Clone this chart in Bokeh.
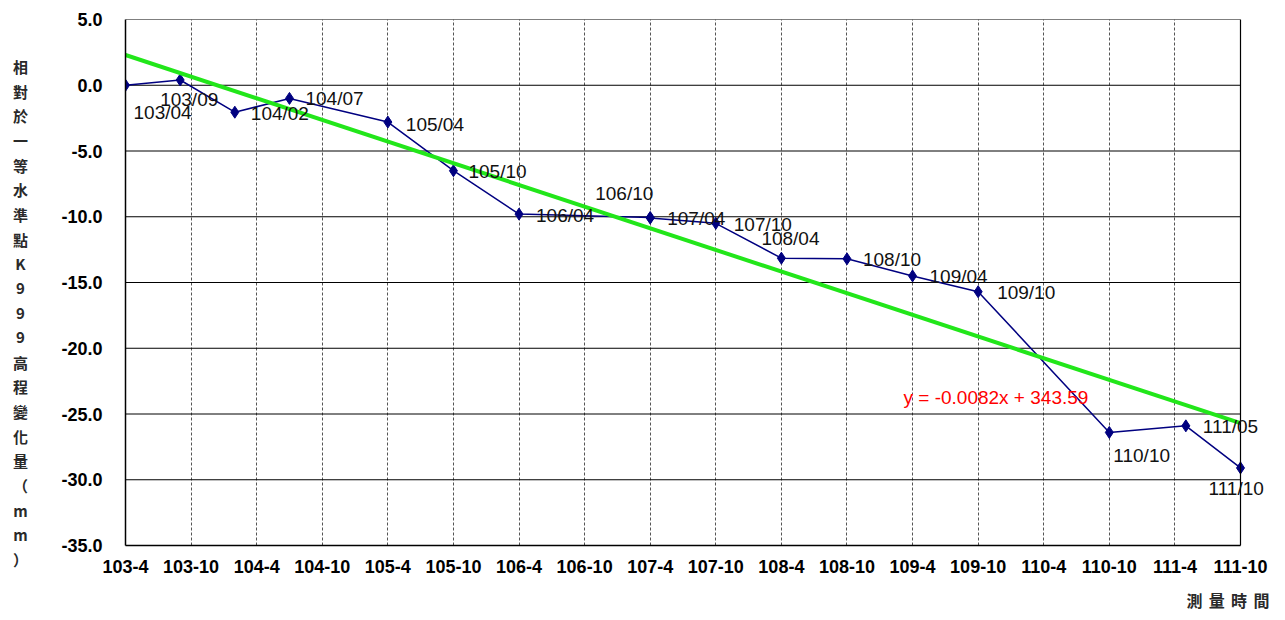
from bokeh.plotting import figure
from bokeh.layouts import column, row
from bokeh.models import (ColumnDataSource, FixedTicker, LabelSet, Label, Range1d,
                          PrintfTickFormatter, Span)
from bokeh.core.properties import value
from bokeh.embed import file_html
from bokeh.resources import INLINE

# ---------------- data ----------------
survey_labels = ["103/04", "103/09", "104/02", "104/07", "105/04", "105/10", "106/04",
                 "106/10", "107/04", "107/10", "108/04", "108/10", "109/04", "109/10",
                 "110/10", "111/05", "111/10"]
# months elapsed since 103-4
survey_month = [0, 5, 10, 15, 24, 30, 36, 48, 48, 54, 60, 66, 72, 78, 90, 97, 102]
elevation_change = [0.0, 0.4, -2.05, -1.0, -2.8, -6.5, -9.8, -10.05, -10.1, -10.5,
                    -13.15, -13.2, -14.5, -15.7, -26.4, -25.9, -29.1]
trend_month = [0, 102]
trend_value = [2.3, -25.7]
tick_months = list(range(0, 103, 6))
tick_labels = ["103-4", "103-10", "104-4", "104-10", "105-4", "105-10", "106-4", "106-10",
               "107-4", "107-10", "108-4", "108-10", "109-4", "109-10", "110-4", "110-10",
               "111-4", "111-10"]
y_ticks = [-35, -30, -25, -20, -15, -10, -5, 0, 5]
y_title = "相對於一等水準點K999高程變化量（mm）"
x_title = "測量時間"
equation = "y = -0.0082x + 343.59"

# label placement (screen px: right, down) relative to each point
label_dx = [8, -20, 16, 16, 18, 15, 17, -55, 17, 18, -20, 16, 17, 19, 4, 17, -32]
label_dy = [27, 20, 1, 0, 2, 1, 1, -24, 0, 1, -20, 1, 1, 1, 23, 1, 21]

FONT = "Liberation Sans"
CJK = "Noto Sans CJK TC"

# ---------------- layout geometry (px) ----------------
LEFT_W = 40
PLOT_L, PLOT_R, PLOT_T, PLOT_B = 125, 1240, 19, 545
FRAME_R = 1275
TOP_H = 586
TOTAL_W = 1277
FOOT_H = 26

x_min, x_max = tick_months[0], tick_months[-1]
px_per_unit = (PLOT_R - PLOT_L) / (x_max - x_min)
x_end = x_max + (FRAME_R - PLOT_R) / px_per_unit

p = figure(frame_width=FRAME_R - PLOT_L, frame_height=PLOT_B - PLOT_T,
           x_range=Range1d(x_min, x_end), y_range=Range1d(y_ticks[0], y_ticks[-1]),
           output_backend="svg", toolbar_location=None,
           min_border_left=PLOT_L - LEFT_W, min_border_right=TOTAL_W - FRAME_R,
           min_border_top=PLOT_T, min_border_bottom=TOP_H - PLOT_B)
p.outline_line_color = None
p.background_fill_color = "white"
p.border_fill_color = "white"

# vertical dashed grid
p.xgrid.ticker = FixedTicker(ticks=tick_months)
p.xgrid.grid_line_color = "#555555"
p.xgrid.grid_line_dash = "3 2"
p.xgrid.grid_line_width = 1
p.ygrid.grid_line_color = None

# horizontal solid grid (bounded to the plot area) and right border
p.segment(x0=[x_min] * len(y_ticks), x1=[x_max] * len(y_ticks), y0=y_ticks, y1=y_ticks,
          line_color="black", line_width=1)
p.add_layout(Span(location=x_max, dimension="height", line_color="black", line_width=1.2))

# axes
p.xaxis.ticker = FixedTicker(ticks=tick_months)
p.xaxis.major_label_overrides = {m: t for m, t in zip(tick_months, tick_labels)}
p.xaxis.bounds = (x_min, x_max)
p.yaxis.ticker = FixedTicker(ticks=y_ticks)
p.yaxis.formatter = PrintfTickFormatter(format="%.1f")
for ax in (p.xaxis, p.yaxis):
    ax.axis_line_color = "black"
    ax.axis_line_width = 1.5
    ax.major_tick_in = 0
    ax.major_tick_out = 0
    ax.minor_tick_line_color = None
    ax.major_label_text_font = FONT
    ax.major_label_text_font_size = "18px"
    ax.major_label_text_font_style = "bold"
    ax.major_label_text_color = "black"
p.xaxis.major_label_standoff = 14
p.yaxis.major_label_standoff = 23

# series
src = ColumnDataSource(dict(x=survey_month, y=elevation_change, t=survey_labels,
                            dx=label_dx, dy=[-d for d in label_dy]))
p.line("x", "y", source=src, line_color="#000080", line_width=1.5)
p.scatter("x", "y", source=src, marker="diamond", size=12, fill_color="#000080",
          line_color="#000080")
p.line(trend_month, trend_value, line_color="#22e61a", line_width=4)

labels = LabelSet(x="x", y="y", text="t", source=src, x_offset="dx", y_offset="dy",
                  text_font=value(FONT), text_font_size=value("19px"), text_color="#111111",
                  text_align="left", text_baseline="middle")
p.add_layout(labels)

p.add_layout(Label(x=903 - PLOT_L, y=PLOT_B - 397, x_units="screen", y_units="screen",
                   text=equation, text_font=FONT, text_font_size="19px", text_color="#ff0000",
                   text_align="left", text_baseline="middle"))

# ---------------- left panel: vertical stacked y title ----------------
left = figure(frame_width=LEFT_W, frame_height=TOP_H, x_range=Range1d(0, LEFT_W),
              y_range=Range1d(TOP_H, 0), output_backend="svg", toolbar_location=None,
              min_border=0, min_border_left=0, min_border_right=0, min_border_top=0,
              min_border_bottom=0)
left.axis.visible = False
left.grid.visible = False
left.outline_line_color = None
n = len(y_title)
ys = [47 + i * (540 - 47) / (n - 1) for i in range(n)]
left.text(x=[20] * n, y=ys, text=list(y_title), text_font=value(CJK),
          text_font_size=value("15px"), text_font_style="bold", text_color="#2a2a2a",
          text_align="center", text_baseline="middle")

# ---------------- footer: x title ----------------
foot = figure(frame_width=TOTAL_W, frame_height=FOOT_H, x_range=Range1d(0, TOTAL_W),
              y_range=Range1d(TOP_H + FOOT_H, TOP_H), output_backend="svg",
              toolbar_location=None, min_border=0, min_border_left=0, min_border_right=0,
              min_border_top=0, min_border_bottom=0)
foot.axis.visible = False
foot.grid.visible = False
foot.outline_line_color = None
xs = [1194 + i * 22.3 for i in range(len(x_title))]
foot.text(x=xs, y=[TOP_H + FOOT_H / 2] * len(x_title), text=list(x_title), text_font=value(CJK),
          text_font_size=value("16px"), text_font_style="bold", text_color="#2a2a2a",
          text_align="center", text_baseline="middle")

layout = column(row(left, p, spacing=0), foot, spacing=0)
open("out.html", "w").write(file_html(layout, INLINE))
